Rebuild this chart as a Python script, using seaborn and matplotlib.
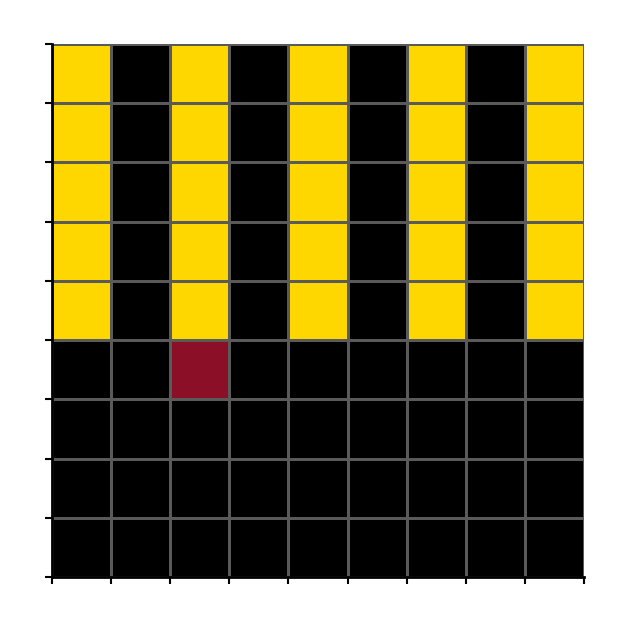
import numpy as np
import matplotlib
matplotlib.use("Agg")
import matplotlib.pyplot as plt
from matplotlib.colors import ListedColormap
import seaborn as sns

# 0 = black, 1 = yellow, 2 = red
stripe_row = [1, 0, 1, 0, 1, 0, 1, 0, 1]
dark_row = [0, 0, 0, 0, 0, 0, 0, 0, 0]
red_row = [0, 0, 2, 0, 0, 0, 0, 0, 0]
grid = [stripe_row] * 5 + [red_row] + [dark_row] * 3

colors = ["#000000", "#FFD700", "#8B0F27"]

fig = plt.figure(figsize=(6.29, 6.29), dpi=100)
ax = fig.add_axes([0.0827, 0.0827, 0.8457, 0.8474])
sns.heatmap(np.array(grid), cmap=ListedColormap(colors), vmin=-0.5, vmax=2.5,
            cbar=False, linewidths=1.0, linecolor="#5a5a5a", ax=ax, square=False)

ax.set_xticks(range(10))
ax.set_yticks(range(10))
ax.set_xticklabels([])
ax.set_yticklabels([])
ax.tick_params(length=5, width=1.5, color="black")
for side in ["left", "bottom"]:
    ax.spines[side].set_visible(True)
    ax.spines[side].set_color("black")
    ax.spines[side].set_linewidth(2)

fig.savefig("out.png", dpi=100)
